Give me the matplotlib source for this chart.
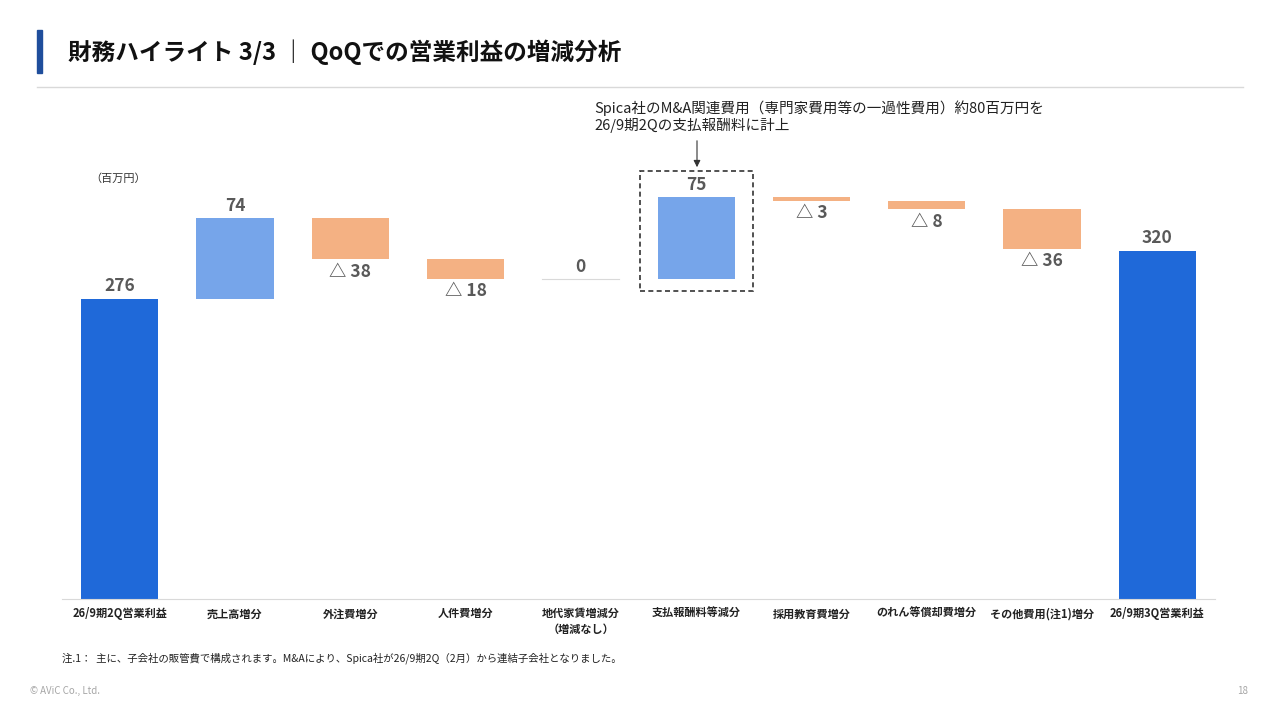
import matplotlib
matplotlib.use("Agg")
import matplotlib.pyplot as plt
from matplotlib.patches import Rectangle, FancyArrowPatch
import numpy as np

plt.rcParams['font.family'] = ['Noto Sans CJK JP', 'DejaVu Sans']

categories = ["26/9期2Q営業利益", "売上高増分", "外注費増分", "人件費増分",
              "地代家賃増減分\n（増減なし）", "支払報酬料等減分", "採用教育費増分",
              "のれん等償却費増分", "その他費用(注1)増分", "26/9期3Q営業利益"]
start_value = 276
deltas = [74, -38, -18, 0, 75, -3, -8, -36]
end_value = 320
labels = ["276", "74", "△ 38", "△ 18", "0", "75", "△ 3", "△ 8", "△ 36", "320"]

C_TOTAL = "#1F69D9"
C_UP = "#76A5EA"
C_DOWN = "#F4B183"
C_TXT = "#595959"

fig = plt.figure(figsize=(12.8, 7.2), dpi=100)
W, H = 1280, 720
ax = fig.add_axes([62 / W, 1 - 599 / H, (1215 - 62) / W, (599 - 180) / H])
x = np.arange(len(categories))
bw = 0.67
lbl = dict(fontsize=12.5, fontweight="bold", color=C_TXT, ha="center")

ax.bar(x[0], start_value, bw, color=C_TOTAL)
ax.text(x[0], start_value + 3, labels[0], va="bottom", **lbl)
level = start_value
for i, d in enumerate(deltas, start=1):
    if d > 0:
        ax.bar(x[i], d, bw, bottom=level, color=C_UP)
        ax.text(x[i], level + d + 3, labels[i], va="bottom", **lbl)
    elif d < 0:
        ax.bar(x[i], -d, bw, bottom=level + d, color=C_DOWN)
        ax.text(x[i], level + d - 3, labels[i], va="top", **lbl)
    else:
        ax.plot([x[i] - bw / 2, x[i] + bw / 2], [level, level], color="#D9D9D9", lw=0.8)
        ax.text(x[i], level + 3, labels[i], va="bottom", **lbl)
    if i == 5:
        # dashed highlight box around the one-off M&A cost bar
        ax.add_patch(Rectangle((x[i] - 0.49, level - 11), 0.98, 110,
                               fill=False, ls=(0, (3, 2)), lw=1.2, ec="#333333", clip_on=False))
    level += d
ax.bar(x[-1], end_value, bw, color=C_TOTAL)
ax.text(x[-1], end_value + 3, labels[-1], va="bottom", **lbl)

ax.set_xlim(-0.5, len(categories) - 0.5)
ax.set_ylim(0, 385)
ax.set_yticks([])
for s in ["top", "right", "left"]:
    ax.spines[s].set_visible(False)
ax.spines["bottom"].set_color("#D9D9D9")
ax.set_xticks(x)
ax.set_xticklabels(categories, fontsize=8, color="#222222", linespacing=1.3, fontweight="bold")
ax.tick_params(axis="x", length=0, pad=6)

# header
fig.patches.append(Rectangle((37 / W, 1 - 73 / H), 5 / W, 43 / H, transform=fig.transFigure, color="#1F4E9C"))
fig.add_artist(plt.Line2D([37 / W, 1243 / W], [1 - 87 / H, 1 - 87 / H], color="#D9D9D9", lw=1))
fig.text(68 / W, 1 - 52 / H, "財務ハイライト 3/3 ｜ QoQでの営業利益の増減分析", fontsize=17,
         fontweight="bold", va="center", color="#111111")
fig.text(90 / W, 1 - 179 / H, "（百万円）", fontsize=8, va="center", color="#333333")
fig.text(594 / W, 1 - 117 / H, "Spica社のM&A関連費用（専門家費用等の一過性費用）約80百万円を\n26/9期2Qの支払報酬料に計上",
         fontsize=10.5, va="center", color="#222222", linespacing=1.15)
fig.add_artist(FancyArrowPatch((697 / W, 1 - 138 / H), (697 / W, 1 - 170 / H),
               transform=fig.transFigure, arrowstyle="-|>", mutation_scale=10, color="#333333", lw=0.8))
fig.text(62 / W, 1 - 658 / H, "注.1：  主に、子会社の販管費で構成されます。M&Aにより、Spica社が26/9期2Q（2月）から連結子会社となりました。",
         fontsize=7.5, va="center", color="#222222")
fig.text(30 / W, 1 - 691 / H, "© AViC Co., Ltd.", fontsize=7, va="center", color="#A6A6A6")
fig.text(1248 / W, 1 - 691 / H, "18", fontsize=7, va="center", ha="right", color="#A6A6A6")

fig.savefig("out.png", dpi=100)
